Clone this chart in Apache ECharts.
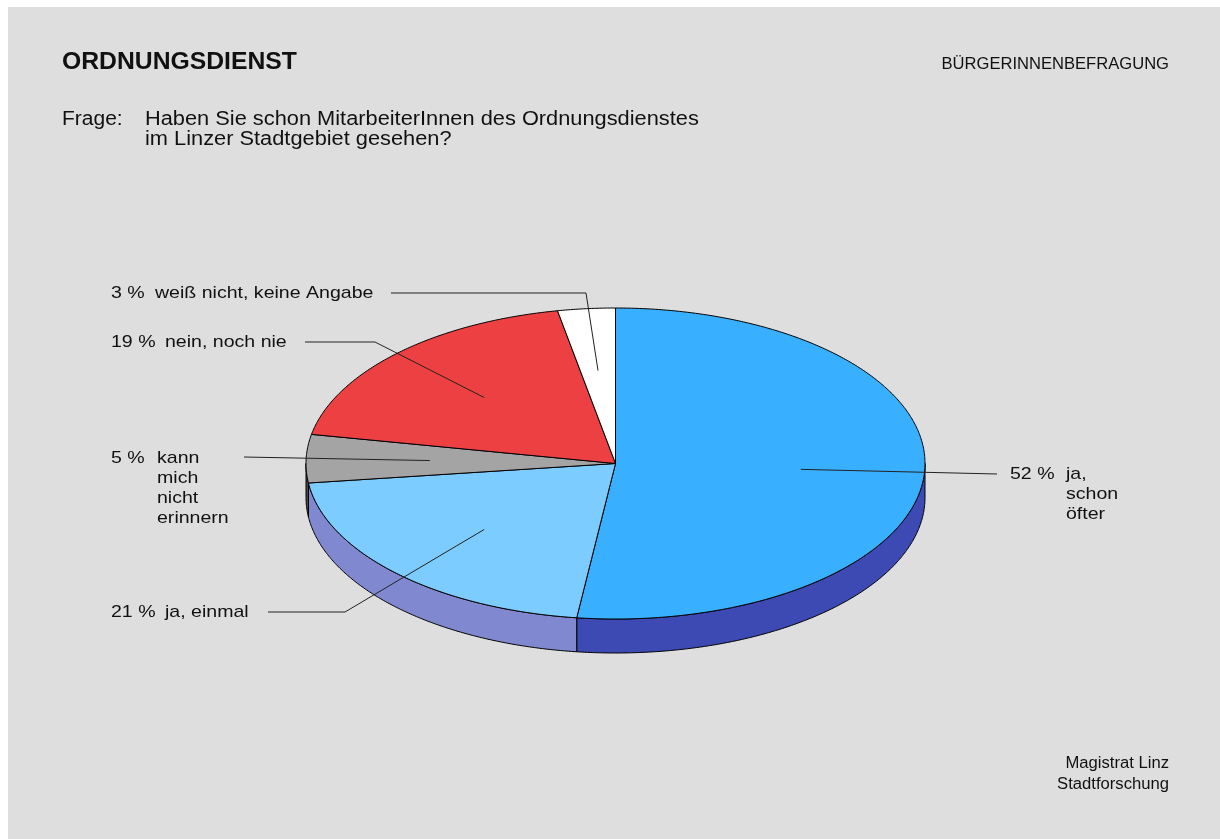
<!DOCTYPE html>
<html><head><meta charset="utf-8">
<script src="https://cdn.jsdelivr.net/npm/echarts@6/dist/echarts.min.js"></script>
<style>html,body{margin:0;padding:0;background:#fff}#c{width:1220px;height:839px}</style>
</head><body><div id="c"></div>
<script>
// ---- data ----
const categories = ['ja, schon öfter', 'ja, einmal', 'kann mich nicht erinnern', 'nein, noch nie', 'weiß nicht, keine Angabe'];
const labelTexts = ['ja,\nschon\nöfter', 'ja, einmal', 'kann\nmich\nnicht\nerinnern', 'nein, noch nie', 'weiß nicht, keine Angabe'];
const values = [52, 21, 5, 19, 3];

// ---- styles / layout ----
const topColors = ['#38b0ff', '#7dccff', '#a4a4a4', '#ec4042', '#ffffff'];
const sideColors = ['#3d4ab3', '#8089d0', '#4a4a4a', '#a02c2e', '#bfbfbf'];
const labelLayout = [
  { pts: [[997, 474]], px: 1010, dx: 1066, y: 474 },
  { pts: [[345, 612], [268, 612]], px: 111, dx: 165, y: 612 },
  { pts: [[244, 457]], px: 111, dx: 157, y: 458 },
  { pts: [[375, 342], [305, 342]], px: 111, dx: 165, y: 342 },
  { pts: [[586, 293], [391, 293]], px: 111, dx: 155, y: 293 }
];
const PIE = { cx: 615.5, cy: 463.5, rx: 309.5, ry: 155.5, depth: 34 };
const FONT = '"Liberation Sans", Arial, sans-serif';
const LABEL_SIZE = 17;
const LABEL_STRETCH = 1.15;

function pt(a, f, dy) {
  const r = a * Math.PI / 180;
  return [PIE.cx + PIE.rx * f * Math.sin(r), PIE.cy - PIE.ry * f * Math.cos(r) + (dy || 0)];
}
function arc(a0, a1, dy) {
  const n = Math.max(2, Math.ceil(Math.abs(a1 - a0) * 2));
  const out = [];
  for (let j = 0; j <= n; j++) out.push(pt(a0 + (a1 - a0) * j / n, 1, dy));
  return out;
}

function renderItem(params, api) {
  const i = params.dataIndex;
  const total = values.reduce((a, b) => a + b, 0);
  let before = 0;
  for (let k = 0; k < i; k++) before += values[k];
  const v = api.value(0);
  const a0 = before / total * 360;
  const a1 = (before + v) / total * 360;
  const children = [];
  const s = Math.max(a0, 90), e = Math.min(a1, 270);
  if (e > s) {
    children.push({
      type: 'polygon', z2: 1,
      shape: { points: arc(s, e, 0).concat(arc(e, s, PIE.depth)) },
      style: { fill: sideColors[i], stroke: '#000', lineWidth: 1 }
    });
  }
  children.push({
    type: 'polygon', z2: 2,
    shape: { points: [[PIE.cx, PIE.cy]].concat(arc(a0, a1, 0)) },
    style: { fill: topColors[i], stroke: '#000', lineWidth: 1, lineJoin: 'round' }
  });
  const L = labelLayout[i];
  const anchor = pt((a0 + a1) / 2, 0.6, 0);
  children.push({
    type: 'polyline', z2: 20,
    shape: { points: [anchor].concat(L.pts) },
    style: { fill: null, stroke: '#222', lineWidth: 1 }
  });
  children.push({
    type: 'text', z2: 21, x: L.px, y: L.y, scaleX: LABEL_STRETCH,
    style: { text: v + ' %', x: 0, y: 0, fill: '#111', fontSize: LABEL_SIZE, fontFamily: FONT, verticalAlign: 'middle', align: 'left' }
  });
  children.push({
    type: 'text', z2: 21, x: L.dx, y: L.y - 10, scaleX: LABEL_STRETCH,
    style: { text: labelTexts[i], x: 0, y: 0, fill: '#111', fontSize: LABEL_SIZE, fontFamily: FONT, lineHeight: 20, verticalAlign: 'top', align: 'left' }
  });
  return { type: 'group', children: children };
}

const chart = echarts.init(document.getElementById('c'), null, { renderer: 'canvas' });
chart.setOption({
  backgroundColor: '#ffffff',
  animation: false,
  graphic: [
    { type: 'rect', z: -10, shape: { x: 8, y: 7, width: 1212, height: 832 }, style: { fill: '#dedede' } },
    { type: 'text', x: 62, y: 62, scaleX: 1.03, style: { text: 'ORDNUNGSDIENST', x: 0, y: 0, fontSize: 24, fontWeight: 'bold', fontFamily: FONT, fill: '#111', verticalAlign: 'middle' } },
    { type: 'text', x: 1169, y: 65, scaleX: 1.036, style: { text: 'BÜRGERINNENBEFRAGUNG', x: 0, y: 0, fontSize: 16, fontFamily: FONT, fill: '#111', align: 'right', verticalAlign: 'middle' } },
    { type: 'text', x: 62, y: 119, scaleX: 1.05, style: { text: 'Frage:', x: 0, y: 0, fontSize: 20, fontFamily: FONT, fill: '#111', verticalAlign: 'middle' } },
    { type: 'text', x: 145, y: 109, scaleX: 1.09, style: { text: 'Haben Sie schon MitarbeiterInnen des Ordnungsdienstes\nim Linzer Stadtgebiet gesehen?', x: 0, y: 0, fontSize: 20, lineHeight: 20, fontFamily: FONT, fill: '#111', verticalAlign: 'top' } },
    { type: 'text', x: 1169, y: 753, scaleX: 1.04, style: { text: 'Magistrat Linz\nStadtforschung', x: 0, y: 0, fontSize: 16, lineHeight: 21, fontFamily: FONT, fill: '#111', align: 'right', verticalAlign: 'top' } }
  ],
  series: [{
    type: 'custom',
    coordinateSystem: 'none',
    renderItem: renderItem,
    data: values.map((v, i) => ({ name: categories[i], value: v }))
  }]
});
</script>
</body></html>
